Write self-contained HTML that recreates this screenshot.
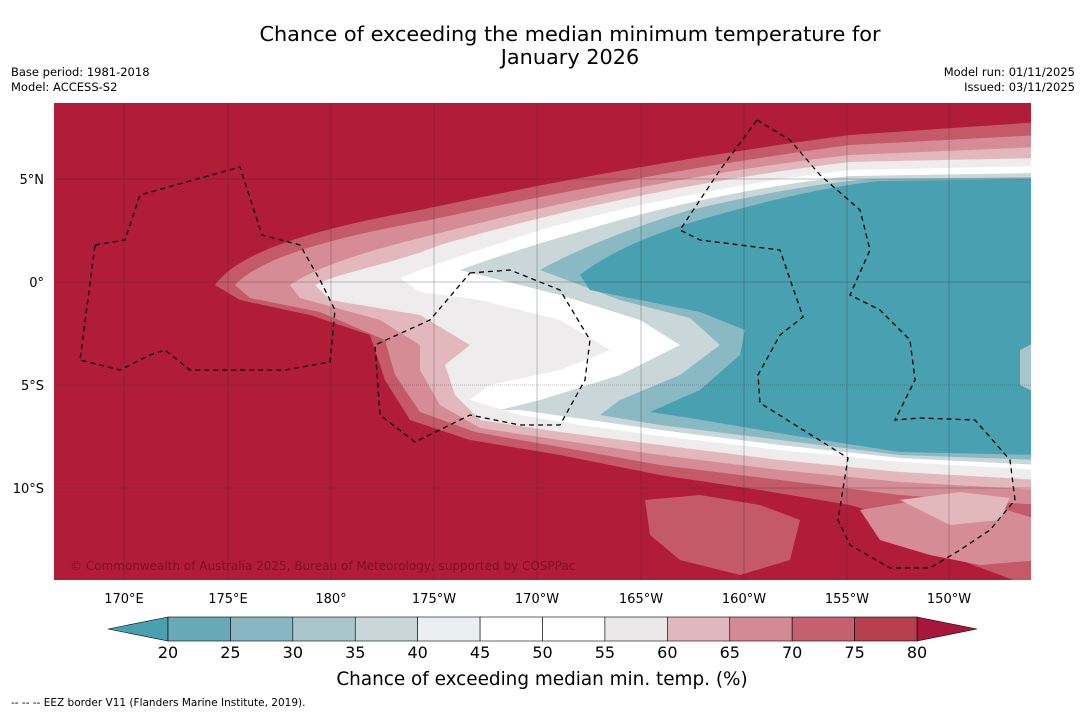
<!DOCTYPE html>
<html><head><meta charset="utf-8"><style>
body{margin:0;background:#fff;width:1085px;height:713px;overflow:hidden;font-family:"DejaVu Sans","Liberation Sans",sans-serif}
</style></head><body>
<svg id="chart" width="1085" height="713" viewBox="0 0 1085 713" xmlns="http://www.w3.org/2000/svg" font-family="DejaVu Sans, Liberation Sans, sans-serif">
<text x="570" y="41" text-anchor="middle" font-size="20.8">Chance of exceeding the median minimum temperature for</text>
<text x="570" y="64" text-anchor="middle" font-size="20.8">January 2026</text>
<text x="11" y="76" font-size="11.5">Base period: 1981-2018</text>
<text x="11" y="91" font-size="11.5">Model: ACCESS-S2</text>
<text x="1075" y="76" font-size="11.5" text-anchor="end">Model run: 01/11/2025</text>
<text x="1075" y="91" font-size="11.5" text-anchor="end">Issued: 03/11/2025</text>
<defs><clipPath id="mc"><rect x="54" y="103" width="977" height="477"/></clipPath></defs>
<g clip-path="url(#mc)">
<rect x="54" y="103" width="977" height="477" fill="#b11d39"/>
<path fill="#c45a68" d="M215,285 C240,250 320,228 420,210 C560,180 700,155 850,135 L1040,122 L1040,590 L960,560 L900,520 L850,505 L760,490 L660,475 L560,455 L470,440 L410,420 L385,380 L370,335 L310,315 L240,300 Z"/>
<path fill="#d68c94" d="M235,285 C260,258 330,238 430,220 C560,192 700,165 850,145 L1040,135 L1040,505 L900,495 L780,480 L660,465 L560,447 L475,432 L420,412 L395,375 L385,340 L320,312 L250,298 Z"/>
<path fill="#e2b8bd" d="M290,285 C320,265 370,250 440,233 C560,202 700,172 850,155 L1040,147 L1040,490 L900,482 L780,470 L660,455 L560,440 L480,428 L440,405 L420,370 L420,345 L380,320 L300,298 Z"/>
<path fill="#eeeced" d="M315,285 C340,272 390,265 440,245 C560,210 700,180 850,162 L1040,158 L1040,480 L900,472 L780,460 L660,445 L560,432 L480,420 L455,395 L445,365 L470,345 L420,315 L330,300 Z"/>
<path fill="#ffffff" d="M400,278 C430,265 480,250 540,230 C640,202 760,180 850,170 L1040,166 L1040,470 L900,462 L780,450 L660,436 L580,425 L520,415 L470,400 L490,385 L560,370 L610,350 L560,320 L480,300 L420,292 Z"/>
<path fill="#c9d7d9" d="M460,270 C500,255 560,237 620,220 C700,198 780,184 850,176 L1040,173 L1040,465 L900,458 L780,445 L660,430 L590,420 L520,410 L500,410 L540,400 L620,375 L680,345 L640,320 L560,295 Z"/>
<path fill="#8ab8c3" d="M540,270 C580,248 630,228 690,210 C760,194 820,183 870,179 L1040,177 L1040,460 L900,455 L780,440 L660,425 L600,415 L620,400 L680,375 L720,345 L690,318 L620,300 Z"/>
<path fill="#48a0b1" d="M580,275 C610,252 650,234 710,217 C770,200 830,186 880,181 L1040,179 L1040,455 L900,452 L790,435 L690,418 L650,412 L700,390 L740,355 L745,330 L700,312 L640,300 L590,290 Z"/>
<path fill="#a8c6cc" d="M1020,350 L1040,340 L1040,395 L1020,385 Z"/>
<path fill="#c45a68" d="M645,500 L700,495 L760,505 L800,520 L790,560 L740,575 L680,560 L650,535 Z"/>
<path fill="#d68c94" d="M860,510 L920,500 L990,505 L1040,520 L1040,560 L980,565 L930,555 L880,540 Z"/>
<path fill="#e2b8bd" d="M900,500 L960,492 L1010,498 L1000,520 L950,525 Z"/>
<g stroke="#333" stroke-width="0.5" opacity="0.6">
<line x1="124" y1="103" x2="124" y2="580"/><line x1="228" y1="103" x2="228" y2="580"/><line x1="331" y1="103" x2="331" y2="580"/><line x1="434" y1="103" x2="434" y2="580"/><line x1="537" y1="103" x2="537" y2="580"/><line x1="641" y1="103" x2="641" y2="580"/><line x1="744" y1="103" x2="744" y2="580"/><line x1="847" y1="103" x2="847" y2="580"/><line x1="949" y1="103" x2="949" y2="580"/>
<line x1="54" y1="179" x2="1031" y2="179"/><line x1="54" y1="282" x2="1031" y2="282"/><line x1="54" y1="385" x2="1031" y2="385" stroke-dasharray="1,1"/><line x1="54" y1="488" x2="1031" y2="488"/>
</g>
<g fill="none" stroke="#000" stroke-width="1.3" stroke-dasharray="5,4">
<path d="M95,245 L125,240 L140,195 L240,167 L262,235 L300,245 L320,280 L335,310 L330,362 L285,370 L190,370 L165,350 L150,355 L120,370 L80,360 Z"/>
<path d="M470,273 L510,270 L560,290 L590,340 L585,380 L560,425 L520,425 L470,415 L415,442 L380,415 L375,345 L430,320 Z"/>
<path d="M757,120 L790,140 L820,175 L860,210 L870,250 L850,295 L880,310 L910,340 L915,380 L895,420 L920,418 L975,420 L1010,460 L1015,500 L990,530 L960,550 L930,568 L890,568 L850,545 L838,520 L848,458 L760,403 L758,375 L780,335 L803,317 L780,250 L700,240 L680,230 L720,170 Z"/>
</g>
<text x="70" y="570" font-size="12" fill="#6a1020" opacity="0.8">© Commonwealth of Australia 2025, Bureau of Meteorology, supported by COSPPac</text>
</g>
<g font-size="13" text-anchor="middle">
<text x="124" y="603">170°E</text><text x="228" y="603">175°E</text><text x="331" y="603">180°</text><text x="434" y="603">175°W</text><text x="537" y="603">170°W</text><text x="641" y="603">165°W</text><text x="744" y="603">160°W</text><text x="847" y="603">155°W</text><text x="949" y="603">150°W</text>
</g>
<g font-size="13" text-anchor="end">
<text x="44" y="184">5°N</text><text x="44" y="287">0°</text><text x="44" y="390">5°S</text><text x="44" y="493">10°S</text>
</g>
<g id="cbar"></g>
<text x="542" y="685" font-size="18.4" text-anchor="middle">Chance of exceeding median min. temp. (%)</text>
<text x="11" y="706" font-size="10.5">--  --  -- EEZ border V11 (Flanders Marine Institute, 2019).</text>
</svg>
<script>
const levels=[20,25,30,35,40,45,50,55,60,65,70,75,80];
const binColors=["#68a9b7","#88b6c2","#a8c6cc","#c9d7d9","#eaeff1","#ffffff","#ffffff","#ebe8ea","#e0b7bc","#d48a92","#c5606e","#b7404f"];
const extColors=["#48a0b1","#a8173a"];
const NS="http://www.w3.org/2000/svg";
const g=document.getElementById('cbar');
const x0=168,x1=917,y0=617,y1=641;
const sx=v=>x0+(v-levels[0])/(levels[levels.length-1]-levels[0])*(x1-x0);
function mk(t,a){const e=document.createElementNS(NS,t);for(const k in a)e.setAttribute(k,a[k]);g.appendChild(e);return e;}
let lt=mk('polygon',{points:`${x0},${y0} 108,${(y0+y1)/2} ${x0},${y1}`,fill:extColors[0],stroke:'#000','stroke-width':0.6});


let rt=mk('polygon',{points:`${x1},${y0} 977,${(y0+y1)/2} ${x1},${y1}`,fill:extColors[1],stroke:'#000','stroke-width':0.6});


for(let i=0;i<binColors.length;i++){
 const r=mk('rect',{x:sx(levels[i]),y:y0,width:sx(levels[i+1])-sx(levels[i]),height:y1-y0,fill:binColors[i],stroke:'#000','stroke-width':0.6});
 
 
}
levels.forEach(v=>{
 const t=mk('text',{x:sx(v),y:658,'font-size':16,'text-anchor':'middle'});
 t.textContent=v;
 
 
});
</script>
</body></html>
